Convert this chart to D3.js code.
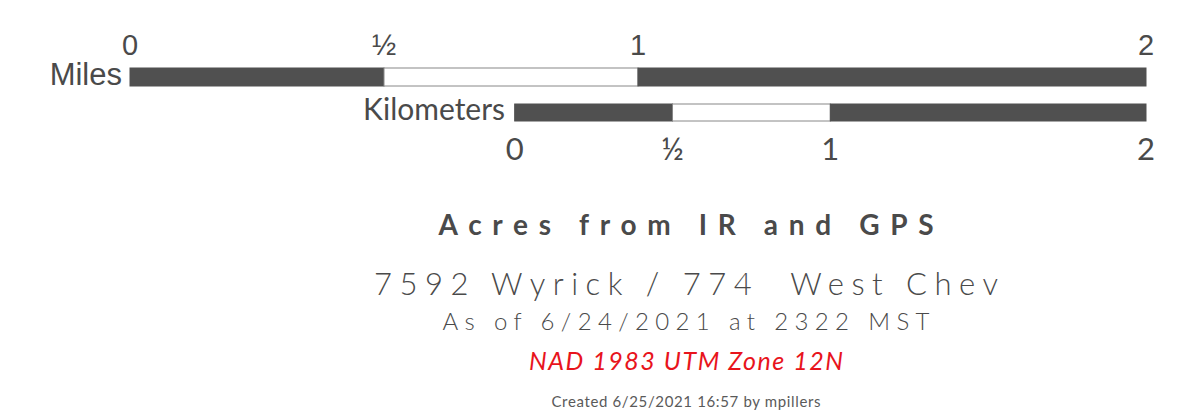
<!DOCTYPE html>
<html><head><meta charset="utf-8">
<script src="https://cdn.jsdelivr.net/npm/d3@7"></script>
<style>body{margin:0;background:#fff;}svg{display:block;}</style>
</head><body>
<svg id="c" width="1199" height="415"></svg>
<script>
// Data
const mileTicks = [0, 0.5, 1, 2];
const mileTickLabels = ["0", "½", "1", "2"];
const mileSegments = [[0, 0.5], [0.5, 1], [1, 2]];
const kmTicks = [0, 0.5, 1, 2];
const kmTickLabels = ["0", "½", "1", "2"];
const kmSegments = [[0, 0.5], [0.5, 1], [1, 2]];
const segmentFill = ["dark", "light", "dark"];
const KM_PER_MILE = 1.609344;
const titleLines = ["Acres from IR and GPS", "7592 Wyrick / 774  West Chev", "As of 6/24/2021 at 2322 MST", "NAD 1983 UTM Zone 12N", "Created 6/25/2021 16:57 by mpillers"];

const svg = d3.select("#c");
const dark = "#505050", txt = "#4a4a4a";
const x = d3.scaleLinear().domain([0, 2]).range([130, 1146]); // miles
// km bar is right-aligned with the miles bar, same ground scale
const kmMax = d3.max(kmTicks);
const xk = d3.scaleLinear().domain([0, kmMax])
  .range([x(x.domain()[1] - kmMax / KM_PER_MILE), x(x.domain()[1])]);

// Miles bar
const mb = svg.append("g");
mb.selectAll("rect").data(mileSegments).join("rect")
  .attr("x", d => x(d[0])).attr("width", d => x(d[1]) - x(d[0]))
  .attr("y", 68).attr("height", 18)
  .attr("fill", (d, i) => segmentFill[i] === "dark" ? dark : "#fff")
  .attr("stroke", (d, i) => segmentFill[i] === "dark" ? dark : "#888")
  .attr("stroke-width", 1);
mb.selectAll("text").data(mileTicks).join("text")
  .attr("x", d => x(d)).attr("y", 55).attr("text-anchor", "middle")
  .attr("font-family", "Liberation Sans, Arial, sans-serif").attr("font-size", 29)
  .attr("fill", txt).text((d, i) => mileTickLabels[i]);
svg.append("text").attr("x", 122).attr("y", 85).attr("text-anchor", "end")
  .attr("font-family", "Liberation Sans, Arial, sans-serif").attr("font-size", 31)
  .attr("fill", txt).text("Miles");

// Km bar
const kb = svg.append("g");
kb.selectAll("rect").data(kmSegments).join("rect")
  .attr("x", d => xk(d[0])).attr("width", d => xk(d[1]) - xk(d[0]))
  .attr("y", 104).attr("height", 17)
  .attr("fill", (d, i) => segmentFill[i] === "dark" ? dark : "#fff")
  .attr("stroke", (d, i) => segmentFill[i] === "dark" ? dark : "#888")
  .attr("stroke-width", 1);
kb.selectAll("text").data(kmTicks).join("text")
  .attr("x", d => xk(d)).attr("y", 160).attr("text-anchor", "middle")
  .attr("font-family", "Lato, sans-serif").attr("font-size", 31)
  .attr("fill", txt).text((d, i) => kmTickLabels[i]);
svg.append("text").attr("x", 505).attr("y", 120).attr("text-anchor", "end")
  .attr("font-family", "Lato, sans-serif").attr("font-size", 30)
  .attr("fill", txt).text("Kilometers");

// Title block
const cx = 686;
const specs = [
  {y: 235, size: 28, weight: 700, len: 495, fill: txt, style: "normal"},
  {y: 295, size: 31, weight: 300, len: 624, fill: txt, style: "normal"},
  {y: 330, size: 24, weight: 300, len: 487, fill: txt, style: "normal"},
  {y: 370, size: 25, weight: 400, len: 314, fill: "#e8141c", style: "italic"},
  {y: 407, size: 15, weight: 400, len: 269, fill: "#5a5a5a", style: "normal"}
];
svg.selectAll("text.t").data(titleLines).join("text").attr("class", "t")
  .attr("x", cx).attr("y", (d, i) => specs[i].y).attr("text-anchor", "middle")
  .attr("font-family", "Lato, sans-serif")
  .attr("font-size", (d, i) => specs[i].size)
  .attr("font-weight", (d, i) => specs[i].weight)
  .attr("font-style", (d, i) => specs[i].style)
  .attr("fill", (d, i) => specs[i].fill)
  .attr("textLength", (d, i) => specs[i].len)
  .attr("lengthAdjust", "spacing")
  .style("white-space", "pre")
  .text(d => d);
</script>
</body></html>
